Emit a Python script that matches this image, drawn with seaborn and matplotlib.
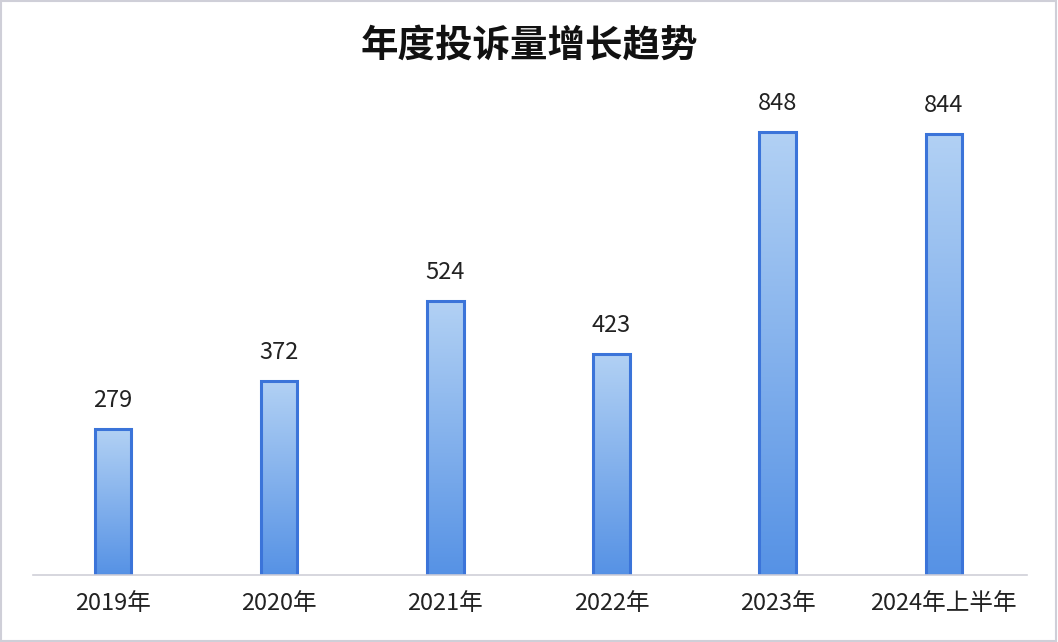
import numpy as np
import pandas as pd
import seaborn as sns
import matplotlib.pyplot as plt
from matplotlib.colors import LinearSegmentedColormap
from matplotlib.patches import Rectangle

years = ["2019年", "2020年", "2021年", "2022年", "2023年", "2024年上半年"]
counts = [279, 372, 524, 423, 848, 844]

df = pd.DataFrame({"year": years, "count": counts})

sns.set_theme(style="white")
plt.rcParams["font.family"] = ["Noto Sans CJK SC", "DejaVu Sans"]

fig = plt.figure(figsize=(10.58, 6.42), dpi=100)
ax = fig.add_axes([33 / 1058, 67 / 642, 994 / 1058, 495 / 642])

sns.barplot(data=df, x="year", y="count", ax=ax, width=0.22,
            color="#8ab8ee", edgecolor="#3b74d9", linewidth=2.2, saturation=1)

# vertical gradient inside each bar (light at top, deeper blue at bottom)
cmap = LinearSegmentedColormap.from_list("bar", ["#5692e5", "#b2d1f4"])
grad = np.linspace(0, 1, 256).reshape(-1, 1)
for bar in ax.patches:
    x0, y0 = bar.get_x(), bar.get_y()
    w, h = bar.get_width(), bar.get_height()
    im = ax.imshow(grad, extent=[x0, x0 + w, y0, y0 + h], origin="lower",
                   cmap=cmap, aspect="auto", zorder=bar.get_zorder() - 0.1)
    im.set_clip_path(bar)
    bar.set_facecolor("none")
    ax.annotate(f"{int(h)}", (x0 + w / 2, h), xytext=(0, 12),
                textcoords="offset points", ha="center", va="bottom",
                fontsize=17, color="#222222")

ax.set_xlim(-0.48, 5.5)
ax.set_ylim(0, 947)
ax.set_xlabel("")
ax.set_ylabel("")
ax.set_yticks([])
ax.tick_params(axis="x", length=0, pad=12, labelsize=17, labelcolor="#222222")
for side in ["top", "left", "right"]:
    ax.spines[side].set_visible(False)
ax.spines["bottom"].set_color("#d0d0d8")
ax.spines["bottom"].set_linewidth(1.2)

fig.text(0.5, 1 - 45 / 642, "年度投诉量增长趋势", ha="center", va="center",
         fontsize=27, fontweight="bold", color="#111111")

# light frame around the picture
fig.add_artist(Rectangle((0.001, 0.002), 0.997, 0.996, transform=fig.transFigure,
                         fill=False, edgecolor="#cfcfd8", linewidth=1.5))

fig.savefig("out.png", dpi=100)
